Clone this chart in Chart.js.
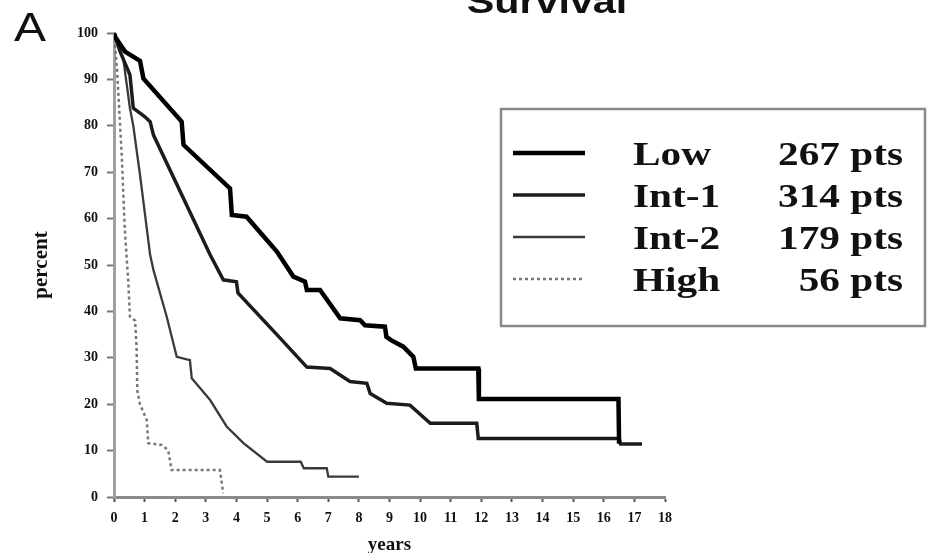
<!DOCTYPE html>
<html><head><meta charset="utf-8">
<script src="https://cdn.jsdelivr.net/npm/chart.js@4.4.1/dist/chart.umd.min.js"></script>
<style>html,body{margin:0;padding:0;background:#fff}#wrap{width:928px;height:553px;position:relative}</style>
</head><body><div id="wrap"><canvas id="c" width="928" height="553"></canvas></div>
<script>
const groupLabels = ['Low', 'Int-1', 'Int-2', 'High'];
const groupCounts = [267, 314, 179, 56];
const xTickValues = [0,1,2,3,4,5,6,7,8,9,10,11,12,13,14,15,16,17,18];
const yTickValues = [0,10,20,30,40,50,60,70,80,90,100];
const chartTitle = 'Survival';
const panelLetter = 'A';

const lowYears = [0, 0.05, 0.36, 0.85, 0.96, 2.21, 2.27, 3.79, 3.85, 4.33, 5.32, 5.86, 6.24, 6.3, 6.73, 7.39, 8.04, 8.2, 8.85, 8.9, 9.05, 9.45, 9.78, 9.86, 11.9, 11.92, 16.48, 16.5];
const lowPct   = [100, 99, 96, 94, 90.2, 80.9, 75.9, 66.5, 60.8, 60.4, 52.9, 47.5, 46.4, 44.6, 44.6, 38.5, 38.1, 37, 36.7, 34.5, 33.8, 32.4, 30.2, 27.7, 27.7, 21.1, 21.1, 11.5];

const int1Years = [0, 0.2, 0.52, 0.63, 1.0, 1.18, 1.29, 3.14, 3.57, 4.0, 4.05, 5.42, 6.3, 7.06, 7.71, 8.26, 8.37, 8.91, 9.67, 10.33, 11.85, 11.9, 16.5, 16.55, 17.25];
const int1Pct   = [100, 96, 91, 83.8, 82, 80.9, 78, 52.2, 46.8, 46.4, 44, 34.3, 28, 27.7, 24.9, 24.5, 22.3, 20.2, 19.8, 15.9, 15.9, 12.6, 12.6, 11.4, 11.4];

const int2Years = [0, 0.15, 0.3, 0.52, 0.63, 0.85, 1.18, 1.29, 1.72, 2.05, 2.48, 2.54, 3.14, 3.68, 4.23, 5.0, 6.1, 6.2, 6.95, 7.0, 8.0];
const int2Pct   = [100, 97, 94.6, 83.8, 80, 69.4, 52.2, 48.9, 38.9, 30.2, 29.5, 25.6, 20.9, 15.2, 11.6, 7.6, 7.6, 6.2, 6.2, 4.4, 4.4];

const highYears = [0, 0.1, 0.25, 0.35, 0.47, 0.52, 0.69, 0.74, 0.76, 0.85, 1.07, 1.12, 1.56, 1.77, 1.88, 3.46, 3.57];
const highPct   = [100, 92, 74, 58, 46, 38.9, 38, 31.7, 23, 20, 16.6, 11.6, 11.2, 10.1, 5.8, 5.8, 0.8];

function pts(xs, ys) { return xs.map((x, i) => ({x: x, y: ys[i]})); }

const serif = '"Liberation Serif", "Times New Roman", serif';
const sans = '"Liberation Sans", Arial, sans-serif';

const datasets = [
  {label: groupLabels[0], data: pts(lowYears, lowPct), borderColor: '#000', borderWidth: 4.5, borderDash: []},
  {label: groupLabels[1], data: pts(int1Years, int1Pct), borderColor: '#1c1c1c', borderWidth: 3.5, borderDash: []},
  {label: groupLabels[2], data: pts(int2Years, int2Pct), borderColor: '#3a3a3a', borderWidth: 2.3, borderDash: []},
  {label: groupLabels[3], data: pts(highYears, highPct), borderColor: '#777', borderWidth: 2.5, borderDash: [3, 3]}
].map(d => Object.assign(d, {pointRadius: 0, tension: 0, fill: false, borderCapStyle: 'butt', borderJoinStyle: 'miter'}));

function stretchedText(ctx, text, x, y, sx, align) {
  ctx.save();
  ctx.translate(x, y);
  ctx.scale(sx, 1);
  ctx.textAlign = align || 'left';
  ctx.fillText(text, 0, 0);
  ctx.restore();
}

const decorPlugin = {
  id: 'decor',
  afterDraw(chart) {
    const ctx = chart.ctx;
    ctx.save();
    ctx.fillStyle = '#111';
    ctx.textBaseline = 'alphabetic';
    // panel letter
    ctx.font = '40px ' + sans;
    stretchedText(ctx, panelLetter, 14, 41, 1.2, 'left');
    // title (cut off at top)
    ctx.font = 'bold 33px ' + sans;
    stretchedText(ctx, chartTitle, 547, 13, 1.25, 'center');
    // legend box
    ctx.strokeStyle = '#8a8a8a';
    ctx.lineWidth = 2.5;
    ctx.strokeRect(501, 109, 424, 217);
    const rowY = [153, 195, 237, 279];
    chart.data.datasets.forEach((ds, i) => {
      ctx.save();
      ctx.strokeStyle = ds.borderColor;
      ctx.lineWidth = ds.borderWidth;
      ctx.setLineDash(ds.borderDash || []);
      ctx.beginPath();
      ctx.moveTo(513, rowY[i]);
      ctx.lineTo(585, rowY[i]);
      ctx.stroke();
      ctx.restore();
      ctx.font = 'bold 33px ' + serif;
      ctx.fillStyle = '#111';
      stretchedText(ctx, groupLabels[i], 633, rowY[i] + 12, 1.25, 'left');
      stretchedText(ctx, groupCounts[i] + ' pts', 903, rowY[i] + 12, 1.25, 'right');
    });
    ctx.restore();
  }
};

new Chart(document.getElementById('c'), {
  type: 'line',
  data: {datasets: datasets},
  plugins: [decorPlugin],
  options: {
    responsive: false,
    animation: false,
    devicePixelRatio: 1,
    layout: {padding: {left: 0, right: 263, top: 33, bottom: 0}},
    plugins: {legend: {display: false}, tooltip: {enabled: false}, title: {display: false}},
    scales: {
      x: {
        type: 'linear', min: 0, max: 18,
        afterBuildTicks: s => { s.ticks = xTickValues.map(v => ({value: v})); },
        afterFit: s => { s.height = 56; },
        ticks: {font: {family: serif, weight: 'bold', size: 14}, color: '#111', padding: 8, maxRotation: 0, autoSkip: false},
        grid: {drawOnChartArea: false, drawTicks: true, tickLength: 5, tickColor: '#555', tickWidth: 2},
        border: {color: '#8a8a8a', width: 3},
        title: {display: true, text: 'years', color: '#111', font: {family: serif, weight: 'bold', size: 19, lineHeight: 0.8}, padding: 0}
      },
      y: {
        min: 0, max: 100,
        afterBuildTicks: s => { s.ticks = yTickValues.map(v => ({value: v})); },
        afterFit: s => { s.width = 114; },
        ticks: {font: {family: serif, weight: 'bold', size: 14}, color: '#111', padding: 9},
        grid: {drawOnChartArea: false, drawTicks: true, tickLength: 7, tickColor: '#777', tickWidth: 2},
        border: {color: '#a0a0a0', width: 3},
        title: {display: true, text: 'percent', color: '#111', font: {family: serif, weight: 'bold', size: 21, lineHeight: 1.2}, padding: {top: 29, bottom: 0}}
      }
    }
  }
});
</script></body></html>
